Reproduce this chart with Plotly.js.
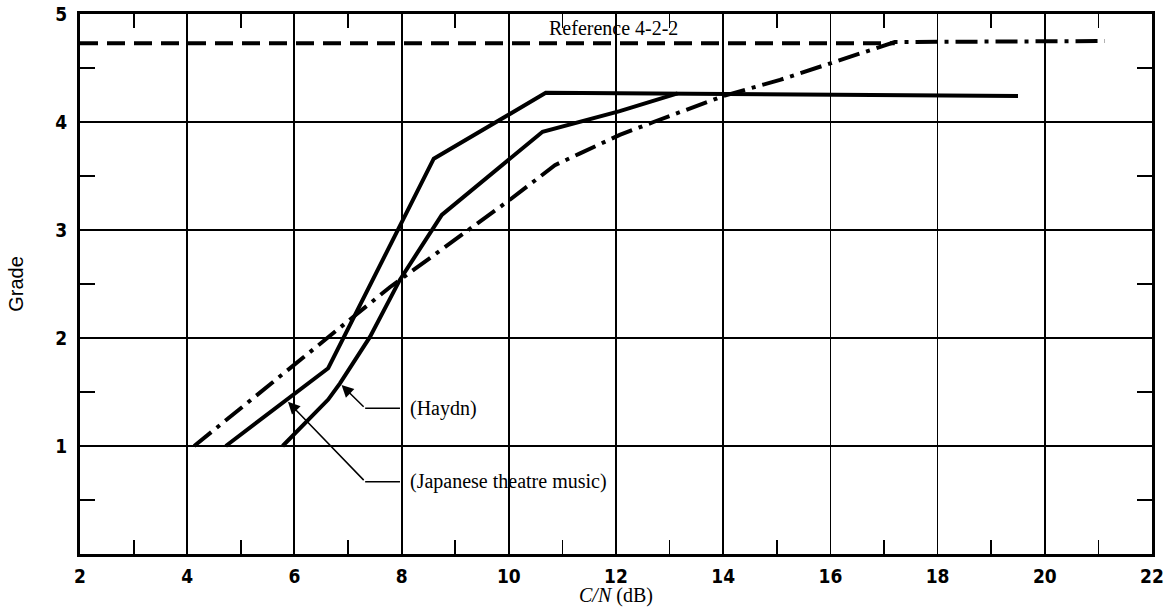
<!DOCTYPE html>
<html>
<head>
<meta charset="utf-8">
<script src="https://cdn.plot.ly/plotly-3.0.1.min.js"></script>
<style>
  html, body { margin: 0; padding: 0; background: #ffffff; }
  #chart { width: 1173px; height: 613px; }
</style>
</head>
<body>
<div id="chart"></div>
<script>
// Subjective grade versus carrier-to-noise ratio
const cnReference = [2, 17.2];
const gradeReference = [4.73, 4.73];

const cnJapanese = [4.72, 6.63, 8.60, 10.69, 19.5];
const gradeJapanese = [1.0, 1.72, 3.66, 4.27, 4.24];

const cnHaydn = [5.78, 6.63, 6.85, 7.41, 7.97, 8.75, 10.63, 12.07, 13.15];
const gradeHaydn = [1.0, 1.43, 1.58, 2.01, 2.54, 3.14, 3.91, 4.10, 4.265];

const cnDashDot = [4.13, 7.78, 10.02, 10.86, 11.33, 12.07, 12.7, 14.0, 15.06, 16.0, 17.2, 21.12];
const gradeDashDot = [1.0, 2.47, 3.28, 3.60, 3.71, 3.88, 4.0, 4.24, 4.39, 4.54, 4.74, 4.75];

const xTickVals = [2, 4, 6, 8, 10, 12, 14, 16, 18, 20, 22];
const xMinorVals = [3, 5, 7, 9, 11, 13, 15, 17, 19, 21];
const yTickVals = [1, 2, 3, 4, 5];
const yMinorVals = [0.5, 1.5, 2.5, 3.5, 4.5];

// Callout labels: arrow tip on curve, elbow of leader, end of leader, label text
const calloutText = ['(Haydn)', '(Japanese theatre music)'];
const calloutTipX = [6.88, 5.88];
const calloutTipY = [1.565, 1.41];
const calloutElbowX = [7.32, 7.32];
const calloutElbowY = [1.35, 0.67];
const calloutEndX = [7.97, 7.97];
const calloutLabelX = [8.12, 8.12];

const referenceLabel = 'Reference 4-2-2';
const referenceLabelX = 11.96;
const referenceLabelY = 4.875;

const xTitle = '<i>C/N</i> (dB)';

const ink = '#000000';
const serif = 'Liberation Serif, Times New Roman, serif';
const narrow = 'Liberation Sans Narrow, DejaVu Sans Condensed, Arial Narrow, sans-serif';

const traces = [
  { x: cnReference, y: gradeReference, mode: 'lines',
    line: { color: ink, width: 4, dash: '18px,9px' }, hoverinfo: 'skip' },
  { x: cnDashDot, y: gradeDashDot, mode: 'lines',
    line: { color: ink, width: 4, dash: '22px,7px,4px,7px' }, hoverinfo: 'skip' },
  { x: cnJapanese, y: gradeJapanese, mode: 'lines',
    line: { color: ink, width: 4 }, hoverinfo: 'skip' },
  { x: cnHaydn, y: gradeHaydn, mode: 'lines',
    line: { color: ink, width: 4 }, hoverinfo: 'skip' }
];

const annotations = [];
const shapes = [];
for (let i = 0; i < calloutText.length; i++) {
  annotations.push({
    x: calloutTipX[i], y: calloutTipY[i], xref: 'x', yref: 'y',
    ax: calloutElbowX[i], ay: calloutElbowY[i], axref: 'x', ayref: 'y',
    text: '', showarrow: true, arrowhead: 2, arrowsize: 1.6, arrowwidth: 1.5,
    arrowcolor: ink, standoff: 0
  });
  shapes.push({
    type: 'line', xref: 'x', yref: 'y',
    x0: calloutElbowX[i], y0: calloutElbowY[i], x1: calloutEndX[i], y1: calloutElbowY[i],
    line: { color: ink, width: 1.5 }
  });
  annotations.push({
    x: calloutLabelX[i], y: calloutElbowY[i], xref: 'x', yref: 'y',
    text: calloutText[i], showarrow: false, xanchor: 'left', yanchor: 'middle',
    font: { family: serif, size: 20, color: ink }
  });
}
annotations.push({
  x: referenceLabelX, y: referenceLabelY, xref: 'x', yref: 'y',
  text: referenceLabel, showarrow: false, xanchor: 'center', yanchor: 'middle',
  font: { family: serif, size: 20, color: ink }
});
// axis title for C/N sits just under the tick labels
annotations.push({
  x: 0.5, y: -0.076, xref: 'paper', yref: 'paper',
  text: xTitle, showarrow: false, xanchor: 'center', yanchor: 'middle',
  font: { family: serif, size: 20, color: ink }
});

const layout = {
  width: 1173, height: 613,
  margin: { l: 80, r: 21, t: 14, b: 59 },
  paper_bgcolor: '#ffffff', plot_bgcolor: '#ffffff',
  showlegend: false,
  xaxis: {
    range: [2, 22], tickmode: 'array', tickvals: xTickVals,
    showgrid: true, gridcolor: ink, gridwidth: 1.8, zeroline: false,
    showline: true, linecolor: ink, linewidth: 3, mirror: 'ticks',
    ticks: '', ticklabelstandoff: 3,
    tickfont: { family: narrow, size: 19, color: ink, weight: 'bold' },
    minor: { tickmode: 'array', tickvals: xMinorVals, ticks: 'inside', ticklen: 14,
             tickwidth: 1.8, tickcolor: ink, showgrid: false }
  },
  yaxis: {
    range: [0, 5], tickmode: 'array', tickvals: yTickVals,
    showgrid: true, gridcolor: ink, gridwidth: 1.8, zeroline: false,
    showline: true, linecolor: ink, linewidth: 3, mirror: 'ticks',
    ticks: '', ticklabelstandoff: 6,
    tickfont: { family: narrow, size: 19, color: ink, weight: 'bold' },
    minor: { tickmode: 'array', tickvals: yMinorVals, ticks: 'inside', ticklen: 15,
             tickwidth: 1.8, tickcolor: ink, showgrid: false },
    title: { text: 'Grade', font: { family: 'Liberation Sans, Arial, sans-serif', size: 20, color: ink }, standoff: 27 }
  },
  annotations: annotations,
  shapes: shapes
};

Plotly.newPlot('chart', traces, layout, { displayModeBar: false, staticPlot: true });
</script>
</body>
</html>
